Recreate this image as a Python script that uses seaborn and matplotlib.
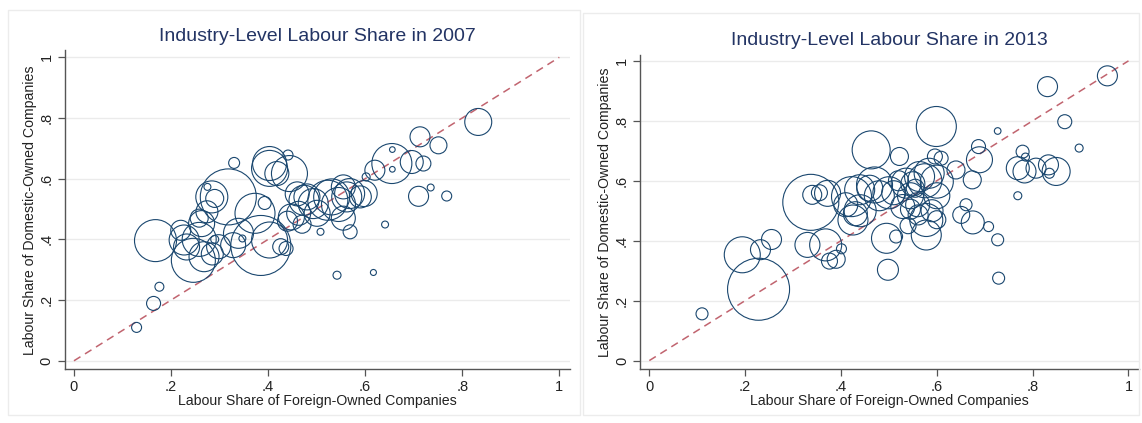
import matplotlib
matplotlib.use("Agg")
import matplotlib.pyplot as plt
import seaborn as sns
import pandas as pd
from matplotlib.patches import Rectangle

# labour share of foreign-owned (x) and domestic-owned (y) companies, by industry
# weights = industry size (bubble area)
x07 = [.129, .164, .176, .168, .227, .232, .246, .268, .285, .298, .290, .263, .274, .258,
       .284, .290, .275, .318, .330, .328, .339, .347, .373, .385, .403, .393, .403, .403,
       .418, .441, .444, .426, .437, .448, .463, .474, .460, .493, .501, .508, .523, .531,
       .555, .562, .568, .545, .569, .542, .617, .598, .602, .620, .641, .655, .656, .656,
       .696, .720, .713, .751, .710, .735, .768, .833, .480, .440, .470, .555, .590, .220,
       .258]
y07 = [.110, .189, .244, .396, .398, .375, .331, .343, .352, .376, .400, .452, .491, .470,
       .540, .535, .573, .540, .652, .381, .420, .403, .486, .380, .398, .520, .650, .634,
       .617, .678, .617, .376, .370, .474, .486, .529, .550, .518, .486, .425, .529, .540,
       .573, .540, .551, .515, .425, .282, .291, .551, .606, .628, .449, .650, .696, .631,
       .655, .650, .738, .710, .542, .571, .543, .787, .540, .460, .450, .470, .540, .430,
       .400]
w07 = [25, 49, 20, 441, 225, 169, 484, 225, 121, 144, 16, 169, 121, 81,
       256, 81, 12, 784, 30, 156, 225, 12, 400, 900, 324, 42, 289, 324,
       144, 25, 324, 64, 49, 169, 144, 225, 144, 225, 169, 12, 400, 324,
       144, 225, 225, 289, 49, 16, 9, 169, 16, 100, 12, 400, 8, 8,
       132, 56, 100, 72, 100, 12, 25, 182, 169, 100, 81, 144, 121, 100,
       289]

x13 = [.110, .194, .228, .232, .255, .330, .368, .376, .390, .401, .337, .340, .372, .355,
       .422, .439, .460, .470, .480, .425, .430, .463, .522, .495, .515, .498, .536, .550,
       .564, .575, .529, .545, .561, .578, .578, .599, .596, .584, .600, .609, .640, .674,
       .687, .689, .727, .661, .651, .675, .708, .727, .729, .769, .779, .785, .769, .783,
       .807, .833, .835, .849, .831, .867, .897, .956, .510, .520, .545, .560, .555, .600,
       .590, .600, .440, .410, .500, .540]
y13 = [.156, .353, .238, .370, .404, .386, .386, .332, .338, .373, .528, .553, .558, .560,
       .547, .570, .575, .586, .550, .469, .490, .703, .681, .408, .414, .303, .592, .590,
       .614, .600, .514, .505, .486, .469, .419, .781, .681, .625, .597, .675, .636, .603,
       .714, .670, .766, .520, .486, .461, .447, .403, .275, .550, .697, .679, .642, .631,
       .642, .653, .625, .631, .914, .797, .709, .950, .560, .600, .550, .520, .575, .550,
       .500, .470, .500, .520, .560, .450]
w13 = [36, 324, 961, 100, 100, 156, 256, 64, 81, 25, 784, 90, 169, 64,
       400, 225, 169, 324, 225, 225, 144, 361, 81, 225, 42, 110, 225, 144,
       225, 289, 144, 100, 100, 272, 225, 400, 56, 225, 272, 49, 81, 81,
       49, 169, 11, 36, 72, 132, 25, 36, 36, 16, 42, 16, 132, 132,
       100, 100, 25, 196, 100, 49, 16, 100, 144, 100, 169, 144, 81, 169,
       121, 81, 256, 144, 256, 64]

navy = "#1a476f"
diag = "#c1646f"

sns.set_style("white")
plt.rcParams["font.family"] = ["Liberation Sans", "DejaVu Sans"]

fig = plt.figure(figsize=(11.42, 4.23), dpi=100)
# faint graph-region frames
fig.patches.append(Rectangle((8 / 1142, 8 / 423), 572 / 1142, 405 / 423, transform=fig.transFigure,
                             fill=False, ec="#ececec", lw=1))
fig.patches.append(Rectangle((583 / 1142, 8 / 423), 556 / 1142, 402 / 423, transform=fig.transFigure,
                             fill=False, ec="#ececec", lw=1))

ax1 = fig.add_axes([0.0567, 0.127, 0.4424, 0.754])
ax2 = fig.add_axes([0.5606, 0.127, 0.4368, 0.7433])

panels = [(ax1, x07, y07, w07, "2007", (-0.028, 1.023)),
          (ax2, x13, y13, w13, "2013", (-0.029, 1.02))]

for ax, xs, ys, ws, year, ylim in panels:
    df = pd.DataFrame({"foreign": xs, "domestic": ys, "weight": ws})
    for t in [0, .2, .4, .6, .8, 1]:
        ax.axhline(t, color="#ebebeb", lw=1, zorder=0)
    ax.plot([0, 1], [0, 1], color=diag, lw=1.1, ls=(0, (5, 3.5)), zorder=1)
    sns.scatterplot(data=df, x="foreign", y="domestic", size="weight",
                    sizes=(0, 2.0736 * 1000), size_norm=(0, 1000), legend=False,
                    facecolor="none", edgecolor=navy, linewidth=0.8, ax=ax, zorder=2)
    ax.set_xlim(-0.019, 1.022)
    ax.set_ylim(*ylim)
    ticks = [0, .2, .4, .6, .8, 1]
    labs = ["0", ".2", ".4", ".6", ".8", "1"]
    ax.set_xticks(ticks)
    ax.set_xticklabels(labs)
    ax.set_yticks(ticks)
    ax.set_yticklabels(labs, rotation=90, va="center")
    ax.tick_params(axis="both", direction="out", length=5, width=0.9, color="#555555",
                   labelsize=10.5, labelcolor="#222222", pad=3, left=True, bottom=True)
    for s in ["top", "right"]:
        ax.spines[s].set_visible(False)
    for s in ["left", "bottom"]:
        ax.spines[s].set_color("#555555")
        ax.spines[s].set_linewidth(1.0)
    ax.set_xlabel("Labour Share of Foreign-Owned Companies", fontsize=10.2, color="#222222", labelpad=0)
    ax.set_ylabel("Labour Share of Domestic-Owned Companies", fontsize=10.2, color="#222222", labelpad=2)
    ax.set_title("Industry-Level Labour Share in " + year, fontsize=14, color="#233464", pad=7)

fig.savefig("out.png", dpi=100)
